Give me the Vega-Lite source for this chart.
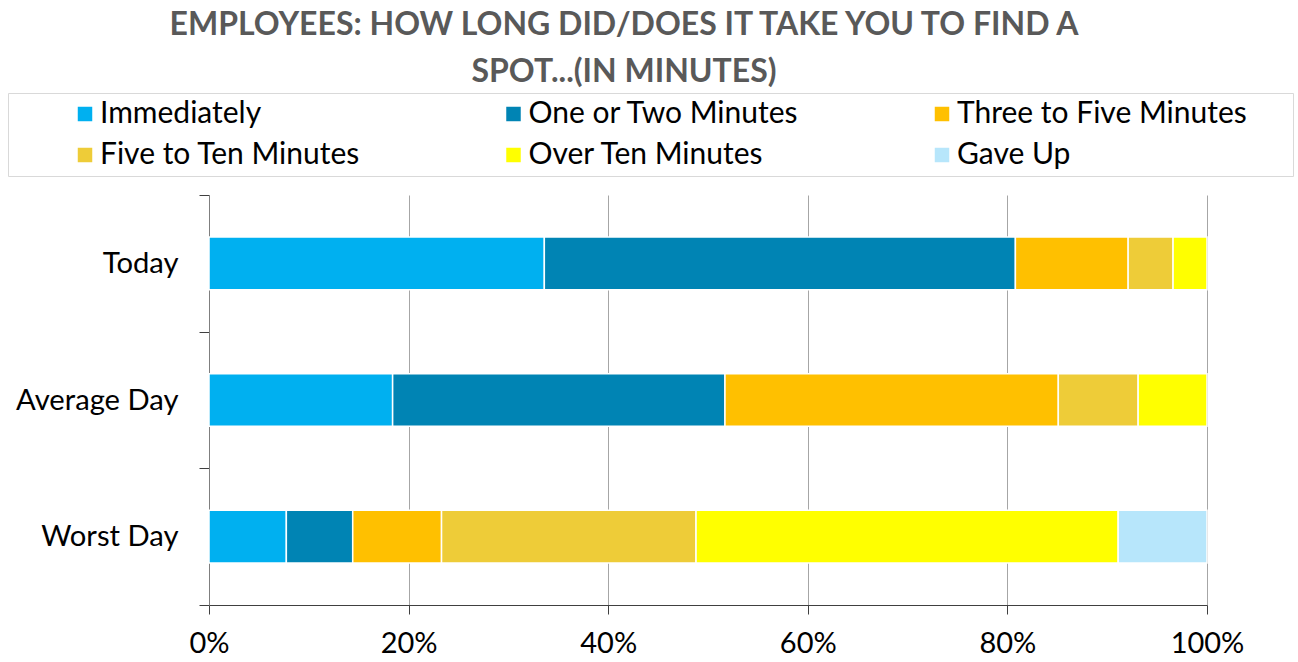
{
  "$schema": "https://vega.github.io/schema/vega-lite/v6.json",
  "width": 998,
  "height": 410,
  "autosize": {"type": "none"},
  "padding": {"left": 209, "top": 195, "right": 91, "bottom": 57},
  "background": "white",
  "title": {
    "text": ["EMPLOYEES: HOW LONG DID/DOES IT TAKE YOU TO FIND A", "SPOT...(IN MINUTES)"],
    "anchor": "middle",
    "frame": "group",
    "dx": -84,
    "offset": 4,
    "font": "Lato",
    "fontSize": 32,
    "fontWeight": "bold",
    "color": "#595959",
    "lineHeight": 47
  },
  "data": {
    "values": [
      {"day": "Today", "answer": "Immediately", "rank": 1, "share": 0.336},
      {"day": "Today", "answer": "One or Two Minutes", "rank": 2, "share": 0.472},
      {"day": "Today", "answer": "Three to Five Minutes", "rank": 3, "share": 0.113},
      {"day": "Today", "answer": "Five to Ten Minutes", "rank": 4, "share": 0.045},
      {"day": "Today", "answer": "Over Ten Minutes", "rank": 5, "share": 0.034},
      {"day": "Average Day", "answer": "Immediately", "rank": 1, "share": 0.184},
      {"day": "Average Day", "answer": "One or Two Minutes", "rank": 2, "share": 0.333},
      {"day": "Average Day", "answer": "Three to Five Minutes", "rank": 3, "share": 0.334},
      {"day": "Average Day", "answer": "Five to Ten Minutes", "rank": 4, "share": 0.080},
      {"day": "Average Day", "answer": "Over Ten Minutes", "rank": 5, "share": 0.069},
      {"day": "Worst Day", "answer": "Immediately", "rank": 1, "share": 0.0775},
      {"day": "Worst Day", "answer": "One or Two Minutes", "rank": 2, "share": 0.0665},
      {"day": "Worst Day", "answer": "Three to Five Minutes", "rank": 3, "share": 0.089},
      {"day": "Worst Day", "answer": "Five to Ten Minutes", "rank": 4, "share": 0.255},
      {"day": "Worst Day", "answer": "Over Ten Minutes", "rank": 5, "share": 0.423},
      {"day": "Worst Day", "answer": "Gave Up", "rank": 6, "share": 0.089}
    ]
  },
  "mark": {"type": "bar", "height": {"band": 0.385}, "stroke": "white", "strokeWidth": 1.5},
  "encoding": {
    "y": {
      "field": "day",
      "type": "nominal",
      "sort": ["Today", "Average Day", "Worst Day"],
      "scale": {"paddingInner": 0, "paddingOuter": 0},
      "axis": {
        "title": null,
        "tickBand": "extent",
        "tickSize": 10,
        "tickColor": "#404040",
        "domainColor": "#7f7f7f",
        "labelFont": "Lato",
        "labelFontSize": 29.2,
        "labelColor": "#000000",
        "labelPadding": 21,
        "grid": false
      }
    },
    "x": {
      "field": "share",
      "type": "quantitative",
      "stack": "zero",
      "scale": {"domain": [0, 1], "nice": false},
      "axis": {
        "title": null,
        "values": [0, 0.2, 0.4, 0.6, 0.8, 1],
        "format": ".0%",
        "labelFlush": false,
        "labelOverlap": false,
        "tickSize": 9,
        "tickColor": "#404040",
        "domainColor": "#404040",
        "grid": true,
        "gridColor": "#a6a6a6",
        "gridWidth": 1,
        "labelFont": "Lato",
        "labelFontSize": 29,
        "labelColor": "#000000",
        "labelPadding": 15
      }
    },
    "color": {
      "field": "answer",
      "type": "nominal",
      "scale": {
        "domain": ["Immediately", "One or Two Minutes", "Three to Five Minutes", "Five to Ten Minutes", "Over Ten Minutes", "Gave Up"],
        "range": ["#00b0f0", "#0084b4", "#ffc000", "#eecc38", "#ffff00", "#b7e6fb"]
      },
      "legend": {
        "title": " ",
        "titleOrient": "right",
        "titlePadding": 40,
        "orient": "none",
        "legendX": -201,
        "legendY": -102,
        "direction": "horizontal",
        "columns": 3,
        "gridAlign": "all",
        "columnPadding": 52.5,
        "rowPadding": 11,
        "padding": 6,
        "symbolOffset": 56,
        "symbolType": "square",
        "symbolSize": 210,
        "symbolStrokeWidth": 0,
        "labelOffset": 0,
        "labelFont": "Lato",
        "labelFontSize": 30,
        "labelColor": "#000000",
        "labelLimit": 400,
        "strokeColor": "#d9d9d9",
        "fillColor": "white"
      }
    },
    "order": {"field": "rank", "type": "quantitative"}
  },
  "config": {
    "view": {"stroke": null}
  }
}
